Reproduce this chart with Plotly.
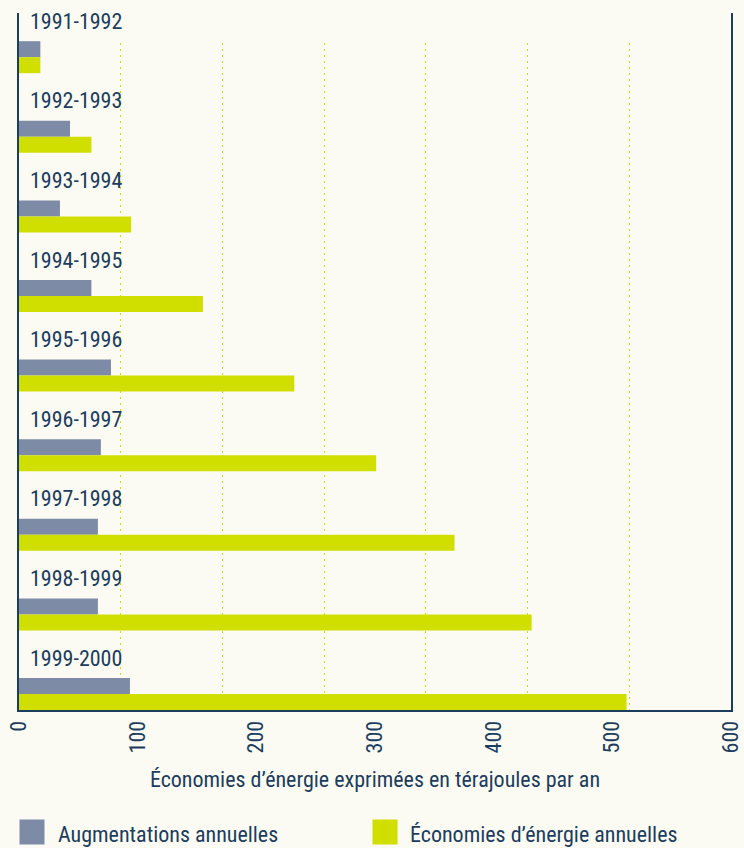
import plotly.graph_objects as go

periods = ["1991-1992", "1992-1993", "1993-1994", "1994-1995", "1995-1996",
           "1996-1997", "1997-1998", "1998-1999", "1999-2000"]
augmentations = [18, 43, 34.5, 61, 77.5, 69, 66.5, 66.5, 93.5]
economies = [18, 61, 94.5, 155, 232, 301, 367, 432, 512]
x_ticks = [0, 100, 200, 300, 400, 500, 600]
series_names = ["Augmentations annuelles", "Économies d’énergie annuelles"]
x_title = "Économies d’énergie exprimées en térajoules par an"

BG = "#FCFBF3"
GRAY = "#7E8BA7"
GREEN = "#D0DE00"
NAVY = "#1B3D5E"
FONT = "Roboto Condensed, DejaVu Sans Condensed, sans-serif"


def fnt(size):
    return dict(size=size, color=NAVY, family=FONT, weight=400)


fig = go.Figure()

# empty trace to create the gridline subplot (drawn underneath)
fig.add_trace(go.Scatter(x=[], y=[], xaxis="x", yaxis="y", showlegend=False, hoverinfo="skip"))

fig.add_trace(go.Bar(
    y=periods, x=augmentations, orientation="h", name=series_names[0],
    xaxis="x2", yaxis="y2", width=0.201, offset=0.098,
    marker=dict(color=GRAY, line=dict(width=0)), showlegend=False))
fig.add_trace(go.Bar(
    y=periods, x=economies, orientation="h", name=series_names[1],
    xaxis="x2", yaxis="y2", width=0.201, offset=0.299,
    marker=dict(color=GREEN, line=dict(width=0)), showlegend=False))

annotations = []
for p in periods:
    annotations.append(dict(
        x=0, y=p, xref="x2", yref="y2", text=p, showarrow=False,
        xanchor="left", yanchor="middle", xshift=9, yshift=12,
        font=fnt(22)))

# legend built from annotations
legend_items = [(0.0, 0.052, GRAY, series_names[0]), (0.4958, 0.5463, GREEN, series_names[1])]
for bx, tx, col, name in legend_items:
    annotations.append(dict(
        x=bx, y=-0.175, xref="paper", yref="paper", text=" ", showarrow=False,
        xanchor="left", yanchor="middle", width=24, height=24, borderpad=0,
        bgcolor=col, font=dict(size=10)))
    annotations.append(dict(
        x=tx, y=-0.178, xref="paper", yref="paper", text=name, showarrow=False,
        xanchor="left", yanchor="middle", font=fnt(22)))

fig.update_layout(
    width=744, height=848,
    margin=dict(l=19, r=13, t=13, b=138, pad=0, autoexpand=False),
    paper_bgcolor=BG, plot_bgcolor="rgba(0,0,0,0)",
    barmode="overlay",
    font=fnt(22),
    xaxis=dict(domain=[0, 1], range=[0, 600], anchor="y", tick0=0, dtick=600 / 7,
               showgrid=True, gridcolor=GREEN, gridwidth=1, griddash="2px,4px",
               showticklabels=False, showline=False, zeroline=False, ticks="",
               automargin=False),
    yaxis=dict(domain=[0, 667 / 697], range=[0, 1], visible=False, showgrid=False,
               automargin=False),
    xaxis2=dict(domain=[0, 1], range=[0, 600], anchor="y2", tickvals=x_ticks,
                ticktext=[str(v) for v in x_ticks], tickangle=-90,
                showgrid=False, zeroline=False, showline=True, linecolor=NAVY, linewidth=2,
                ticks="", tickfont=fnt(22), automargin=False,
                title=dict(text=x_title, font=fnt(22), standoff=19)),
    yaxis2=dict(domain=[0, 1], anchor="x2", type="category", categoryorder="array",
                categoryarray=periods, range=[8.5, -0.256], automargin=False,
                showgrid=False, zeroline=False, showline=True, mirror=True,
                linecolor=NAVY, linewidth=2, showticklabels=False, ticks=""),
    annotations=annotations,
)

fig.write_html("out.html")
